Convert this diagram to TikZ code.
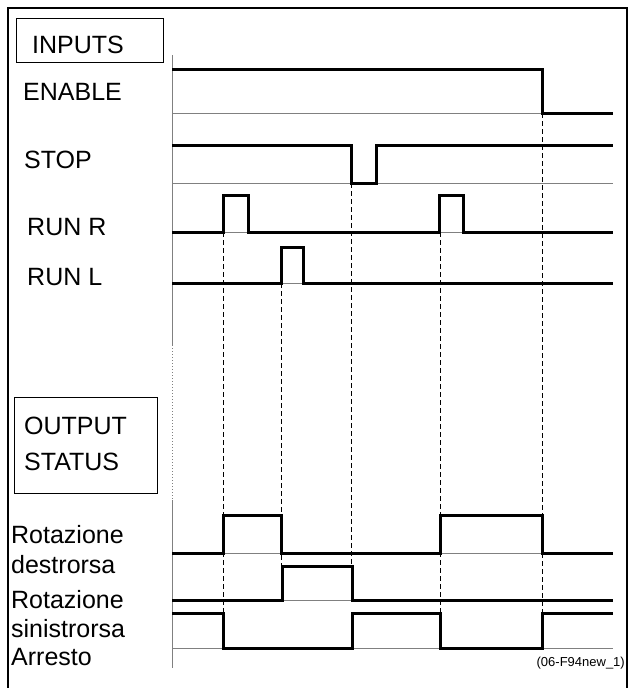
\documentclass[tikz,border=0pt]{standalone}
\usepackage{fontspec}
\setmainfont{Liberation Sans}
\usepackage{tikz}

\begin{document}
\begin{tikzpicture}[x=1pt, y=-1pt,
	every node/.style={inner sep=0pt, font=\fontsize{25}{29}\selectfont},
	lbl/.style={anchor=base west},
	sig/.style={line width=3pt},
	base/.style={gray, line width=0.8pt},
	sync/.style={dash pattern=on 5pt off 3pt, line width=0.6pt}]
	\useasboundingbox (0,0) rectangle (630,688);
	\draw[line width=2pt] (8,700) -- (8,8) -- (627,8) -- (627,700);
	% headings
	\draw[line width=0.8pt] (16,18) rectangle (163,62);
	\node[lbl] (inputs) at (32,53) {INPUTS};
	\draw[line width=0.8pt] (14,397) rectangle (157,493);
	\node[lbl] (output) at (24,434) {OUTPUT};
	\node[lbl] (status) at (24,470) {STATUS};
	% signal names
	\node[lbl] (enable) at (23,100) {ENABLE};
	\node[lbl] (stop) at (24,168) {STOP};
	\node[lbl] (runr) at (27,235) {RUN R};
	\node[lbl] (runl) at (27,285) {RUN L};
	\node[lbl] (rotd) at (11,543) {Rotazione};
	\node[lbl] (dest) at (11,573) {destrorsa};
	\node[lbl] (rots) at (11,608) {Rotazione};
	\node[lbl] (sini) at (11,637) {sinistrorsa};
	\node[lbl] (arr) at (11,665) {Arresto};
	\node[anchor=base east, font=\fontsize{13}{15}\selectfont] (ref) at (625,666) {(06-F94new\_1)};
	% time axis
	\draw[gray, line width=1pt] (172,55) -- (172,345);
	\draw[gray, line width=1pt, dotted] (172,345) -- (172,500);
	\draw[gray, line width=1pt] (172,500) -- (172,668);
	\foreach \y in {113,183,232,283,553,600,648}
		\draw[base] (172,\y) -- (613,\y);
	% inputs
	\draw[sig] (172,69) -| (542,113) -- (613,113);
	\draw[sig] (172,145) -| (351,183) -| (376,145) -- (613,145);
	\draw[sig] (172,232) -| (223,195) -| (248,232) -| (439,195) -| (463,232) -- (613,232);
	\draw[sig] (172,283) -| (281,247) -| (303,283) -- (613,283);
	% outputs
	\draw[sig] (172,553) -| (223,515) -| (281,553) -| (440,515) -| (542,553) -- (613,553);
	\draw[sig] (172,600) -| (282,566) -| (352,600) -- (613,600);
	\draw[sig] (172,613) -| (223,648) -| (352,613) -| (440,648) -| (542,613) -- (613,613);
	% events
	\draw[sync] (223,232) -- (223,613);
	\draw[sync] (281,283) -- (281,566);
	\draw[sync] (351,183) -- (351,566);
	\draw[sync] (440,232) -- (440,613);
	\draw[sync] (542,113) -- (542,613);
\end{tikzpicture}
\end{document}
